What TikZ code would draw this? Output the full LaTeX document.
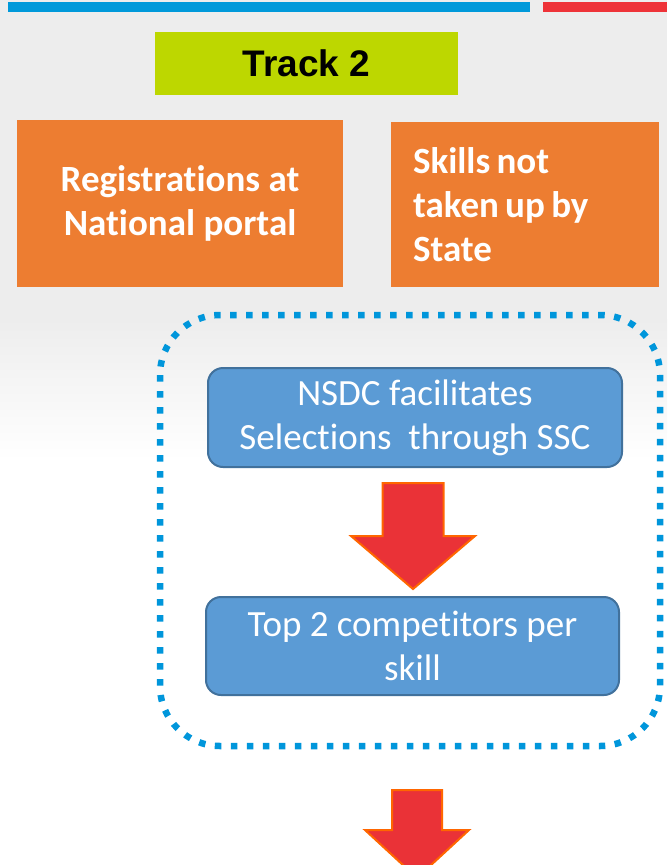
\documentclass[tikz,border=0pt]{standalone}
\usepackage{fontspec}
\setmainfont{Carlito}[Ligatures=NoCommon]
\newfontfamily\arialfont{Liberation Sans}
\usetikzlibrary{calc}
\definecolor{bggray}{HTML}{EDEDED}
\definecolor{barblue}{HTML}{0099DA}
\definecolor{barred}{HTML}{EE3338}
\definecolor{lime}{HTML}{BDD700}
\definecolor{boxorange}{HTML}{ED7D31}
\definecolor{boxblue}{HTML}{5B9BD5}
\definecolor{boxblueedge}{HTML}{41719C}
\definecolor{dotblue}{HTML}{0096DB}
\definecolor{arrowred}{HTML}{EA3237}
\definecolor{arroworange}{HTML}{FF6600}
\begin{document}
\begin{tikzpicture}[x=1pt,y=-1pt,
  trackbox/.style={fill=lime, inner sep=0pt, minimum width=303pt, minimum height=63pt,
    font=\arialfont\bfseries\fontsize{37}{42}\selectfont, text=black},
  orangebox/.style={fill=boxorange, inner sep=0pt, text=white,
    font=\bfseries\fontsize{37}{44}\selectfont},
  bluebox/.style={fill=boxblue, draw=boxblueedge, line width=2pt, rounded corners=15pt,
    inner sep=0pt, text=white, align=center, font=\fontsize{37}{44}\selectfont},
  dotframe/.style={draw=dotblue, line width=6.5pt, dash pattern=on 6.5pt off 9.5pt,
    rounded corners=60pt},
  blockarrow/.style={fill=arrowred, draw=arroworange, line width=2pt, line join=miter}
]
\useasboundingbox (0,0) rectangle (667,865);
\clip (0,0) rectangle (667,865);
% background
\fill[bggray] (0,0) rectangle (667,320);
\shade[top color=bggray, bottom color=white] (0,319) rectangle (667,460);
\fill[white] (0,459) rectangle (667,865);
% top bars
\fill[barblue] (8,2) rectangle (530,12);
\fill[barred] (543,2) rectangle (667,12);
% track title
\node[trackbox] (track) at (306.5,63.5) {Track 2};
% orange boxes
\node[orangebox, minimum width=326pt, minimum height=167pt, align=center] (reg) at (180,203.5)
  {Registrations at\\National portal};
\node[orangebox, minimum height=165pt, text width=224pt, inner xsep=22pt, align=left] (skills) at (525,204.5)
  {\spaceskip=0.17em\relax Skills not\\taken up by\\State};
% dotted frame
\draw[dotframe] (160,315) rectangle (660,746);
% blue boxes
\node[bluebox, minimum width=414pt, minimum height=99pt] (nsdc) at (415,417.5)
  {NSDC facilitates\\Selections~ through SSC};
\node[bluebox, minimum width=413pt, minimum height=98pt] (top2) at (412.5,646)
  {Top 2 competitors per\\skill};
% arrows
\coordinate (a1) at ($(nsdc.south)+(-2,15)$);
\draw[blockarrow] ($(a1)+(-30.5,0)$) -- ($(a1)+(30.5,0)$) -- ($(a1)+(30.5,53)$)
  -- ($(a1)+(62,53)$) -- ($(a1)+(0,106)$) -- ($(a1)+(-62,53)$)
  -- ($(a1)+(-30.5,53)$) -- cycle;
\coordinate (a2) at ($(top2.south)+(4.5,94)$);
\draw[blockarrow] ($(a2)+(-25,0)$) -- ($(a2)+(25,0)$) -- ($(a2)+(25,40)$)
  -- ($(a2)+(52,40)$) -- ($(a2)+(0,88)$) -- ($(a2)+(-52,40)$)
  -- ($(a2)+(-25,40)$) -- cycle;
\end{tikzpicture}
\end{document}
